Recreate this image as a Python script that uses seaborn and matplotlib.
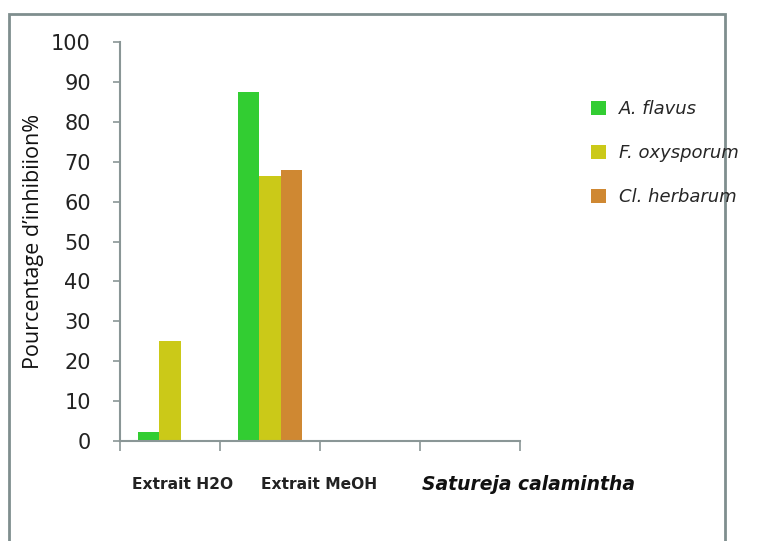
import pandas as pd
import numpy as np
import matplotlib.pyplot as plt
import seaborn as sns
from matplotlib.patches import Rectangle, Patch
from matplotlib.transforms import blended_transform_factory

# data
extraits = ["Extrait H2O", "Extrait MeOH"]
souches = ["A. flavus", "F. oxysporum", "Cl. herbarum"]
a_flavus = [2.3, 87.5]
f_oxysporum = [25.0, 66.3]
cl_herbarum = [0.0, 68.0]
yticks = list(range(0, 101, 10))
plante = "Satureja calamintha"
n_slots = 4

colors = ["#32cd32", "#cbc918", "#cf8832"]

df = pd.DataFrame({
    "extrait": extraits * 3,
    "souche": [s for s in souches for _ in extraits],
    "inhibition": a_flavus + f_oxysporum + cl_herbarum,
})

sns.set_style("white")
plt.rcParams["font.family"] = ["Open Sans", "DejaVu Sans"]

fig = plt.figure(figsize=(7.67, 5.41), dpi=100)
ax = fig.add_axes([120 / 767, 1 - 441 / 541, 400 / 767, 399 / 541])

sns.barplot(data=df, x="extrait", y="inhibition", hue="souche", order=extraits,
            hue_order=souches, palette=colors, width=0.64, gap=0, linewidth=0,
            saturation=1, errorbar=None, legend=False, ax=ax)

ax.set_xlim(-0.5, n_slots - 0.5)
ax.set_ylim(0, 100)
ax.set_yticks(yticks)

spine_col = "#8a9696"
for s in ["top", "right"]:
    ax.spines[s].set_visible(False)
for s in ["left", "bottom"]:
    ax.spines[s].set_color(spine_col)
    ax.spines[s].set_linewidth(1.5)

ax.tick_params(axis="y", left=True, length=5, width=1.2, color=spine_col,
               pad=16, labelsize=15, labelcolor="#222222")
for t in ax.get_yticklabels():
    t.set_family(["DejaVu Sans"])
ax.set_xticks(np.arange(-0.5, n_slots, 1))
ax.set_xticklabels([])
ax.tick_params(axis="x", bottom=True, length=7, width=1.2, color=spine_col)
ax.set_xlabel("")

ax.set_ylabel("Pourcentage d\u2019inhibiion%", fontsize=15.5, color="#111111")
ax.yaxis.set_label_coords(-0.19, 0.5)

# category labels under the axis
trans = blended_transform_factory(ax.transData, ax.transAxes)
label_x = [0.13, 1.49]
for xpos, lab in zip(label_x, extraits):
    ax.text(xpos, -0.11, lab, transform=trans, ha="center", va="center",
            fontsize=11.2, fontweight="bold", color="#222222",
            family=["DejaVu Sans"])
ax.text(3.58, -0.11, plante, transform=trans, ha="center", va="center",
        fontsize=13.5, fontweight="bold", fontstyle="italic", color="#111111",
        family=["DejaVu Sans"])

# legend
handles = [Patch(facecolor=c, edgecolor="none") for c in colors]
fig.legend(handles, souches, loc="upper left", bbox_to_anchor=(591 / 767, 1 - 100 / 541),
           frameon=False, borderpad=0, borderaxespad=0,
           handlelength=0.85, handleheight=0.85, handletextpad=0.7,
           labelspacing=1.45, prop={"size": 13, "style": "italic", "family": "DejaVu Sans"})

# outer frame
fig.patches.append(Rectangle((9 / 767, -0.05), 716 / 767, 1.05 - 14 / 541,
                             transform=fig.transFigure, fill=False,
                             edgecolor="#7f8e8e", linewidth=2, zorder=-1))

fig.savefig("out.png", dpi=100)
